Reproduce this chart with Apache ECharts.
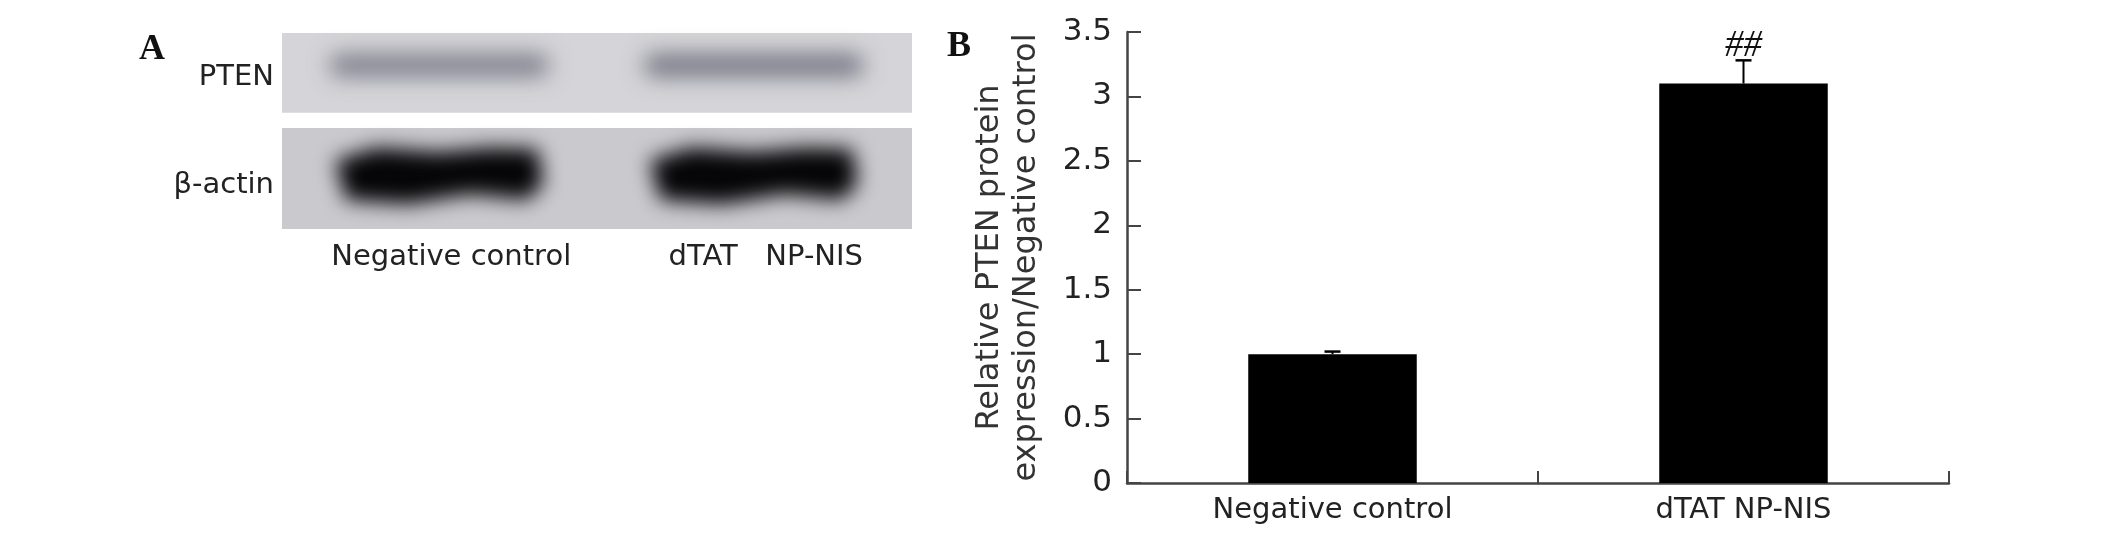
<!DOCTYPE html>
<html>
<head>
    <meta charset="utf-8">
    <title>PTEN protein expression</title>
    <script src="https://cdnjs.cloudflare.com/ajax/libs/echarts/6.0.0/echarts.min.js"></script>
    <style>
        html, body {
            margin: 0;
            padding: 0;
            background: #fff;
        }
        #chart {
            width: 2126px;
            height: 535px;
        }
    </style>
</head>
<body>
    <div id="chart"></div>
    <script>
        // panel A: western blot
        const blotLanes = ['Negative control', 'dTAT   NP-NIS'];
        const blotRows = ['PTEN', 'β-actin'];
        const ptenBand = [0.72, 0.8];   // band darkness per lane
        const actinBand = [1, 1];

        // panel B: relative expression
        const groups = ['Negative control', 'dTAT NP-NIS'];
        const relExpr = [1.0, 3.1];
        const relErr = [0.02, 0.18];
        const marks = ['', '##'];
        const yMin = 0, yMax = 3.5, yStep = 0.5;

        const labelFont = '"DejaVu Sans", Verdana, sans-serif';
        const OFF = 4000; // shapes are drawn off screen, only their blurred shadow lands in place

        const blotData = [];
        blotRows.forEach((r, ri) => {
            const dark = ri === 0 ? ptenBand : actinBand;
            blotLanes.forEach((l, li) => blotData.push([li, ri, dark[li]]));
        });

        function renderBlot(params, api) {
            const lane = api.value(0), row = api.value(1), dark = api.value(2);
            const c = api.coord([lane, row]);
            const s = api.size([1, 1]);
            const w = s[0], h = s[1];
            const x0 = c[0] - w / 2;
            const top = c[1] - h / 2;
            const panelTop = row === 0 ? top : top - 0.03 * h;
            const panelBot = row === 0 ? top + 0.815 * h : top + h;
            const children = [{
                type: 'rect',
                shape: { x: x0, y: panelTop, width: w + 1, height: panelBot - panelTop },
                style: { fill: row === 0 ? '#d5d5d9' : '#c9c9ce' }
            }];
            if (row === 0) {
                const bw = 0.7 * w, bh = 22;
                const cy = top + 0.33 * h;
                children.push({
                    type: 'rect',
                    shape: { x: c[0] - bw / 2 - OFF, y: cy - bh / 2, width: bw, height: bh, r: 11 },
                    style: {
                        fill: '#000',
                        shadowBlur: 22,
                        shadowOffsetX: OFF,
                        shadowColor: 'rgba(90,90,106,' + dark + ')'
                    }
                });
            } else {
                const hw = 0.33 * w, hh = 29;
                const cy = top + 0.45 * h;
                const pts = [[-1, -0.5], [-0.6, -0.95], [0, -0.8], [0.5, -0.95], [0.95, -0.9],
                    [1, 0.3], [0.85, 0.85], [0.3, 0.65], [-0.3, 1], [-0.9, 0.85]];
                children.push({
                    type: 'polygon',
                    shape: { points: pts.map(p => [c[0] + p[0] * hw - OFF, cy + p[1] * hh]) },
                    style: {
                        fill: '#000',
                        shadowBlur: 20,
                        shadowOffsetX: OFF,
                        shadowColor: 'rgba(6,6,8,' + dark + ')'
                    }
                });
            }
            return { type: 'group', children: children };
        }

        function renderErr(params, api) {
            const i = api.value(0), v = api.value(1), e = api.value(2);
            const base = api.coord([i, v]);
            const tip = api.coord([i, v + e]);
            const cap = 8;
            return {
                type: 'group',
                children: [
                    {
                        type: 'line',
                        shape: { x1: base[0], y1: base[1], x2: tip[0], y2: tip[1] },
                        style: { stroke: '#000', lineWidth: 2 }
                    },
                    {
                        type: 'line',
                        shape: { x1: tip[0] - cap, y1: tip[1], x2: tip[0] + cap, y2: tip[1] },
                        style: { stroke: '#000', lineWidth: 2.5 }
                    },
                    {
                        type: 'text',
                        x: tip[0],
                        y: tip[1] + 4,
                        style: {
                            text: marks[i],
                            align: 'center',
                            verticalAlign: 'bottom',
                            font: 'italic 37px "Liberation Serif", "Times New Roman", serif',
                            fill: '#111'
                        }
                    }
                ]
            };
        }

        const chart = echarts.init(document.getElementById('chart'));
        const axisLine = { show: true, lineStyle: { color: '#444', width: 2.5 } };
        const option = {
            animation: false,
            backgroundColor: '#fff',
            textStyle: { fontFamily: labelFont },
            graphic: [
                {
                    type: 'text', left: 139, top: 32,
                    style: { text: 'A', font: 'bold 36px "Liberation Serif", "Times New Roman", serif', fill: '#111' }
                },
                {
                    type: 'text', left: 947, top: 29,
                    style: { text: 'B', font: 'bold 36px "Liberation Serif", "Times New Roman", serif', fill: '#111' }
                }
            ],
            grid: [
                { left: 282, top: 33, width: 629, height: 196 },
                { left: 1127, top: 32, right: 177, bottom: 52 }
            ],
            xAxis: [
                {
                    gridIndex: 0,
                    type: 'category',
                    data: blotLanes,
                    axisLine: { show: false },
                    axisTick: { show: false },
                    axisLabel: { color: '#222', fontSize: 29, fontFamily: labelFont, margin: 14, padding: [0, 0, 0, 24] }
                },
                {
                    gridIndex: 1,
                    type: 'category',
                    data: groups,
                    axisLine: axisLine,
                    axisTick: { show: true, inside: true, length: 12, alignWithLabel: false, lineStyle: { color: '#444', width: 2 } },
                    axisLabel: { color: '#222', fontSize: 29, fontFamily: labelFont, margin: 13 }
                }
            ],
            yAxis: [
                {
                    gridIndex: 0,
                    type: 'category',
                    inverse: true,
                    data: blotRows,
                    axisLine: { show: false },
                    axisTick: { show: false },
                    axisLabel: {
                        color: '#222', fontSize: 29, fontFamily: labelFont, margin: 8,
                        formatter: v => (v === blotRows[0] ? '{up|' : '{dn|') + v + '}',
                        rich: {
                            up: { fontSize: 29, fontFamily: labelFont, color: '#222', padding: [0, 0, 10, 0] },
                            dn: { fontSize: 29, fontFamily: labelFont, color: '#222', padding: [10, 0, 0, 0] }
                        }
                    }
                },
                {
                    gridIndex: 1,
                    type: 'value',
                    min: yMin,
                    max: yMax,
                    interval: yStep,
                    name: 'Relative PTEN protein\nexpression/Negative control',
                    nameLocation: 'middle',
                    nameGap: 82,
                    nameTextStyle: { color: '#333', fontSize: 32, lineHeight: 37, fontFamily: labelFont },
                    axisLine: axisLine,
                    axisTick: { show: true, inside: true, length: 14, lineStyle: { color: '#444', width: 2 } },
                    axisLabel: { color: '#222', fontSize: 31, fontFamily: labelFont, margin: 15 },
                    splitLine: { show: false }
                }
            ],
            series: [
                {
                    type: 'custom',
                    xAxisIndex: 0,
                    yAxisIndex: 0,
                    silent: true,
                    data: blotData,
                    renderItem: renderBlot
                },
                {
                    type: 'bar',
                    xAxisIndex: 1,
                    yAxisIndex: 1,
                    silent: true,
                    data: relExpr,
                    barWidth: '41%',
                    itemStyle: { color: '#000' }
                },
                {
                    type: 'custom',
                    xAxisIndex: 1,
                    yAxisIndex: 1,
                    silent: true,
                    z: 5,
                    data: relExpr.map((v, i) => [i, v, relErr[i]]),
                    renderItem: renderErr
                }
            ]
        };
        chart.setOption(option);
    </script>
</body>
</html>
